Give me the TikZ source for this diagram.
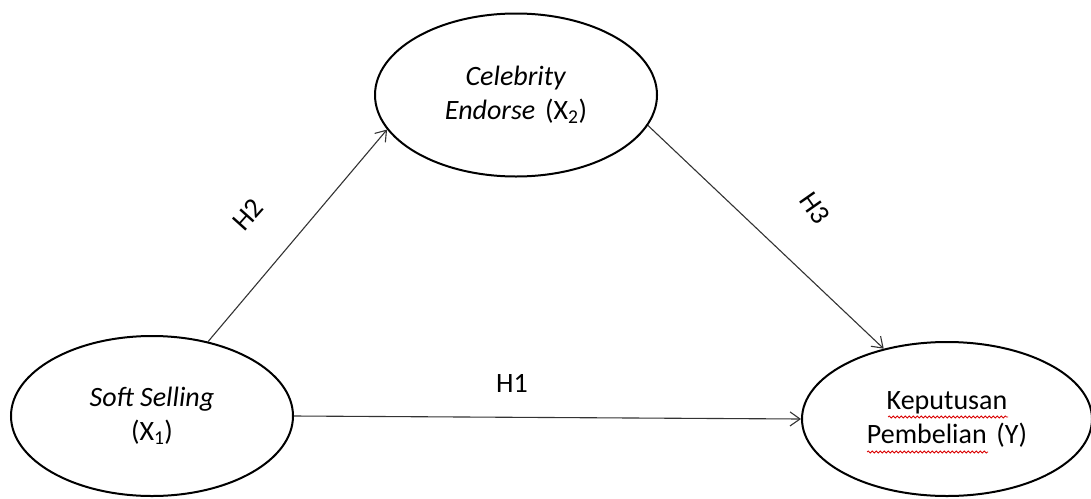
\documentclass[tikz,border=0pt]{standalone}
\usepackage{fontspec}
\setmainfont{Carlito}
\usetikzlibrary{shapes.geometric,arrows.meta,decorations.pathmorphing}
\begin{document}
\begin{tikzpicture}[x=1pt, y=-1pt,
		latent/.style={ellipse, draw=black, line width=2pt, inner sep=0pt, align=center,
			font=\fontsize{28}{34}\selectfont},
		path/.style={draw=black!80, line width=1.1pt, -{Straight Barb[length=10pt,width=14pt]}},
		hyp/.style={font=\fontsize{28}{34}\selectfont},
		spell/.style={draw=red!85!black, line width=0.8pt, decorate,
			decoration={snake, amplitude=1pt, segment length=4pt}}]
			\useasboundingbox (0,0) rectangle (1091,498);
			
			\node (ss) at (152, 416) [latent, minimum width=282pt, minimum height=160pt]{\textit{Soft Selling}\\(X\textsubscript{1})};
			\node (ce) at (516, 95) [latent, minimum width=282pt, minimum height=163pt]{\textit{Celebrity}\\\textit{Endorse}\hspace{0.35em}(X\textsubscript{2})};
			\node (kp) at (947, 419) [latent, minimum width=290pt, minimum height=154pt]{Keputusan\\Pembelian\hspace{0.35em}(Y)};
			
			\draw[path] (ss.east) -- (kp.west);
			\draw[path] (ss.53) -- (ce.195);
			\draw[path] (ce.347) -- (kp.132);
			
			\node (h1) at (512, 383) [hyp]{H1};
			\node (h2) at (248, 215) [hyp, rotate=48]{H2};
			\node (h3) at (815, 208) [hyp, rotate=-55]{H3};
			
			\draw[spell] (888, 417) -- (1008, 417);
			\draw[spell] (867, 452) -- (988, 452);
		\end{tikzpicture}
\end{document}
